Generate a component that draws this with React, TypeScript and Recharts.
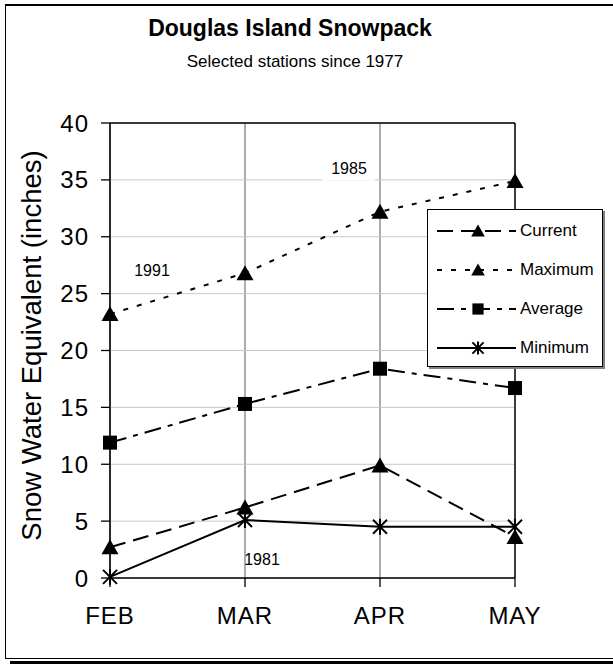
import React from 'react';
import { LineChart, Line, XAxis, YAxis, CartesianGrid, ReferenceLine, ReferenceDot, Legend } from 'recharts';

const months = ['FEB', 'MAR', 'APR', 'MAY'];
const current = [2.7, 6.2, 9.9, 3.6];
const maximum = [23.2, 26.8, 32.2, 34.9];
const average = [11.9, 15.3, 18.4, 16.7];
const minimum = [0.1, 5.1, 4.5, 4.5];
const yTicks = [0, 5, 10, 15, 20, 25, 30, 35, 40];
const seriesNames = ['Current', 'Maximum', 'Average', 'Minimum'];
const annotationLabels = ['1991', '1985', '1981'];
const annotationMonths = ['FEB', 'APR', 'MAR'];
const annotationValues = [27.0, 36.0, 1.6];

const data = months.map((m, i) => ({
  month: m,
  Current: current[i],
  Maximum: maximum[i],
  Average: average[i],
  Minimum: minimum[i],
}));

const FONT = '"Liberation Sans", Arial, sans-serif';

const seriesStyle: Record<string, { dash?: string; marker: string }> = {
  Current: { dash: '16 8', marker: 'triangle' },
  Maximum: { dash: '5 9', marker: 'triangle' },
  Average: { dash: '17 7 5 7', marker: 'square' },
  Minimum: { dash: undefined, marker: 'star' },
};

const annotationDx = [42, -31, 17];

function Marker({ type, cx, cy, s = 1 }: any) {
  if (cx == null || cy == null) return null;
  if (type === 'triangle') {
    return (
      <path
        d={`M${cx},${cy - 8 * s} L${cx + 8.5 * s},${cy + 7 * s} L${cx - 8.5 * s},${cy + 7 * s} Z`}
        fill="#000"
      />
    );
  }
  if (type === 'square') {
    return <rect x={cx - 7 * s} y={cy - 7 * s} width={14 * s} height={14 * s} fill="#000" />;
  }
  return (
    <g stroke="#000" strokeWidth={2}>
      <line x1={cx - 7 * s} y1={cy - 7 * s} x2={cx + 7 * s} y2={cy + 7 * s} />
      <line x1={cx - 7 * s} y1={cy + 7 * s} x2={cx + 7 * s} y2={cy - 7 * s} />
      <line x1={cx} y1={cy - 8 * s} x2={cx} y2={cy + 8 * s} />
    </g>
  );
}

function LegendBox() {
  return (
    <div
      style={{
        width: 176,
        height: 158,
        border: '1px solid #000',
        background: '#fff',
        boxShadow: '2px 2px 0 #808080',
        boxSizing: 'border-box',
        position: 'relative',
        fontFamily: FONT,
      }}
    >
      {seriesNames.map((name, i) => (
        <div
          key={name}
          style={{ position: 'absolute', left: 0, top: 8 + i * 39, height: 26, display: 'flex', alignItems: 'center' }}
        >
          <svg width={92} height={26} style={{ display: 'block' }}>
            <line x1={9} y1={13} x2={88} y2={13} stroke="#000" strokeWidth={2} strokeDasharray={seriesStyle[name].dash} />
            <Marker type={seriesStyle[name].marker} cx={50} cy={13} s={0.8} />
          </svg>
          <span style={{ fontSize: 17, color: '#000', whiteSpace: 'nowrap' }}>{name}</span>
        </div>
      ))}
    </div>
  );
}

function AnnotationLabel(props: any) {
  const { viewBox, value, dx, boxed } = props;
  const cx = viewBox.cx ?? viewBox.x;
  const cy = viewBox.cy ?? viewBox.y;
  const x = cx + dx;
  return (
    <g>
      {boxed && <rect x={x - 27} y={cy - 10} width={53} height={22} fill="#fff" />}
      <text x={x} y={cy} textAnchor="middle" dominantBaseline="central" fontSize={16} fontFamily={FONT} fill="#000">
        {value}
      </text>
    </g>
  );
}

function YLabel(props: any) {
  const { viewBox } = props;
  const x = viewBox.x + 21;
  const y = viewBox.y + viewBox.height / 2 - 5;
  return (
    <text
      x={x}
      y={y}
      transform={`rotate(-90, ${x}, ${y})`}
      textAnchor="middle"
      dominantBaseline="central"
      fontSize={27.5}
      fontFamily={FONT}
      fill="#000"
    >
      Snow Water Equivalent (inches)
    </text>
  );
}

export default function App() {
  return (
    <div style={{ position: 'absolute', left: 0, top: 0, width: 613, height: 664, overflow: 'hidden', background: '#fff' }}>
      <div
        style={{
          position: 'absolute',
          left: 10,
          top: 661,
          width: 640,
          height: 4,
          background: '#000',
        }}
      />
      <div
        style={{
          position: 'absolute',
          left: 5,
          top: 4,
          width: 700,
          height: 655,
          borderLeft: '1px solid #000',
          borderBottom: '1px solid #000',
          borderTop: '2px solid #000',
          borderRight: 'none',
          boxSizing: 'border-box',
        }}
      />
      <div
        style={{
          position: 'absolute',
          left: 0,
          width: 580,
          top: 14,
          textAlign: 'center',
          fontFamily: FONT,
          fontWeight: 'bold',
          fontSize: 23,
          lineHeight: '28px',
          color: '#000',
        }}
      >
        Douglas Island Snowpack
      </div>
      <div
        style={{
          position: 'absolute',
          left: 0,
          width: 590,
          top: 51,
          textAlign: 'center',
          fontFamily: FONT,
          fontSize: 17,
          lineHeight: '22px',
          color: '#000',
        }}
      >
        Selected stations since 1977
      </div>
      <div style={{ position: 'absolute', left: 0, top: 0 }}>
        <LineChart width={613} height={664} data={data} margin={{ top: 123, right: 98, bottom: 26, left: 10 }}>
          <CartesianGrid horizontal={false} stroke="#808080" strokeWidth={1.3} />
          <CartesianGrid vertical={false} stroke="#c8c8c8" />
          <ReferenceLine y={40} stroke="#000" strokeWidth={1.3} />
          <ReferenceLine x="MAY" stroke="#000" strokeWidth={1.3} />
          <XAxis
            dataKey="month"
            height={60}
            tickSize={9}
            tickMargin={20}
            stroke="#000"
            axisLine={{ stroke: '#000', strokeWidth: 1.5 }}
            tickLine={{ stroke: '#000', strokeWidth: 1.3 }}
            tick={{ fill: '#000', fontSize: 24, fontFamily: FONT, letterSpacing: 1 }}
            interval={0}
          />
          <YAxis
            width={100}
            domain={[0, 40]}
            ticks={yTicks}
            tickSize={9}
            tickMargin={12}
            axisLine={{ stroke: '#000', strokeWidth: 1.5 }}
            tickLine={{ stroke: '#000', strokeWidth: 1.3 }}
            tick={{ fill: '#000', fontSize: 24, fontFamily: FONT, letterSpacing: 1 }}
            interval={0}
            label={<YLabel />}
          />
          {annotationLabels.map((lab, i) => (
            <ReferenceDot
              key={lab}
              x={annotationMonths[i]}
              y={annotationValues[i]}
              r={0}
              stroke="none"
              fill="none"
              label={<AnnotationLabel value={lab} dx={annotationDx[i]} boxed={lab === '1985'} />}
            />
          ))}
          {seriesNames.map((name) => (
            <Line
              key={name}
              dataKey={name}
              stroke="#000"
              strokeWidth={2}
              strokeDasharray={seriesStyle[name].dash}
              isAnimationActive={false}
              dot={(p: any) => <Marker key={`${name}-${p.index}`} type={seriesStyle[name].marker} cx={p.cx} cy={p.cy} />}
              activeDot={false}
            />
          ))}
          <Legend
            layout="horizontal"
            verticalAlign="middle"
            align="center"
            content={() => <LegendBox />}
            wrapperStyle={{ position: 'absolute', left: 427, top: 209, width: 176, height: 158 }}
          />
        </LineChart>
      </div>
    </div>
  );
}
